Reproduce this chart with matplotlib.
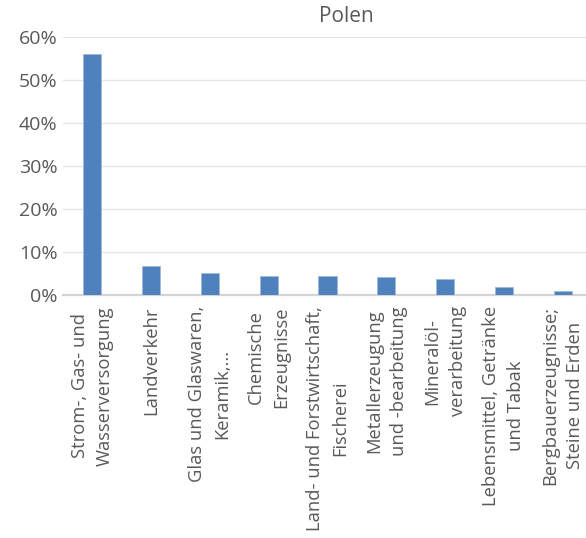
import matplotlib
matplotlib.use("Agg")
import matplotlib.pyplot as plt
from matplotlib.ticker import PercentFormatter

categories = [
    "Strom-, Gas- und\nWasserversorgung",
    "Landverkehr",
    "Glas und Glaswaren,\nKeramik,...",
    "Chemische\nErzeugnisse",
    "Land- und Forstwirtschaft,\nFischerei",
    "Metallerzeugung\nund -bearbeitung",
    "Mineralöl-\nverarbeitung",
    "Lebensmittel, Getränke\nund Tabak",
    "Bergbauerzeugnisse;\nSteine und Erden",
]
shares = [0.560, 0.068, 0.052, 0.045, 0.044, 0.043, 0.038, 0.0175, 0.009]
title = "Polen"

text_color = "#595959"
bar_color = "#4F81BD"
font = "Open Sans"

fig = plt.figure(figsize=(5.86, 5.38), dpi=100)
W, H = 586, 538
left_px, right_px, bottom_px, top_px = 63, 592, 295, 37
ax = fig.add_axes([left_px / W, 1 - bottom_px / H,
                   (right_px - left_px) / W, (bottom_px - top_px) / H])

x = range(len(categories))
ax.bar(x, shares, width=0.31, color=bar_color, edgecolor="#9FB8DC",
       linewidth=0.6, zorder=3)

ax.set_xlim(-0.5, len(categories) - 0.5)
ax.set_ylim(0, 0.6)
ax.set_yticks([0, 0.1, 0.2, 0.3, 0.4, 0.5, 0.6])
ax.yaxis.set_major_formatter(PercentFormatter(1.0, decimals=0))
ax.grid(axis="y", color="#E6E6E6", linewidth=1.0, zorder=0)
ax.set_axisbelow(True)

for side in ("top", "right", "left"):
    ax.spines[side].set_visible(False)
ax.spines["bottom"].set_color("#D4D4D4")
ax.spines["bottom"].set_linewidth(1.6)
ax.spines["bottom"].set_zorder(2)

ax.tick_params(axis="y", length=0, pad=4, labelsize=14, labelcolor=text_color)
ax.tick_params(axis="x", length=0, pad=8)
for lbl in ax.get_yticklabels():
    lbl.set_fontfamily(font)

ax.set_xticks(list(x))
ax.set_xticklabels(categories, rotation=90, ha="center", va="top",
                   multialignment="center", fontsize=13.2, color=text_color,
                   fontfamily=font, linespacing=1.5)

fig.text(346 / W, 1 - 17 / H, title, ha="center", va="center",
         fontsize=15, color=text_color, fontfamily=font)

fig.savefig("out.png", dpi=100, facecolor="white")
